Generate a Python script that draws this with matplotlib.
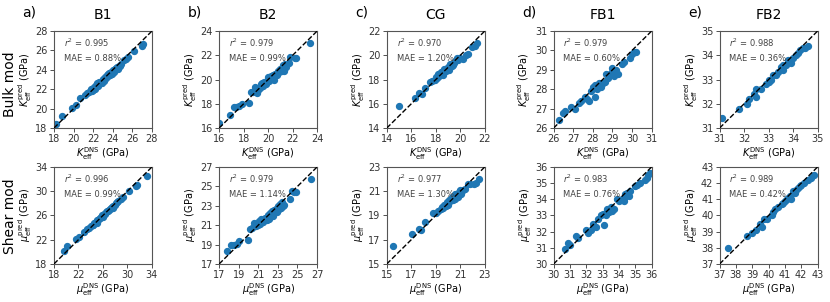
import numpy as np
import matplotlib
matplotlib.use("Agg")
import matplotlib.pyplot as plt

plt.rcParams['font.family'] = ['DejaVu Sans']
plt.rcParams['mathtext.fontset'] = 'dejavusans'

# ---- datos (DNS, pred) ----
b1_bulk_dns = [18.2, 18.8, 19.8, 20.3, 20.7, 21.2, 21.4, 21.6, 21.8, 22.0, 22.1, 22.3, 22.4, 22.5, 22.6,
               22.8, 22.9, 23.0, 23.1, 23.2, 23.3, 23.4, 23.5, 23.6, 23.7, 23.8, 23.9, 24.0, 24.1, 24.2,
               24.3, 24.4, 24.5, 24.6, 24.7, 25.2, 25.4, 25.6, 26.2, 27.0, 27.1, 24.8, 22.2, 21.9, 23.5]
b1_bulk_pred = [18.4, 19.2, 20.1, 20.4, 21.1, 21.4, 21.6, 21.7, 22.0, 21.9, 22.2, 22.4, 22.6, 22.3, 22.7,
                22.8, 22.6, 23.1, 22.9, 23.3, 23.2, 23.5, 23.4, 23.7, 23.5, 23.8, 23.6, 24.0, 23.8, 24.1,
                24.2, 24.3, 24.1, 24.4, 24.4, 25.0, 25.1, 25.3, 25.9, 26.5, 26.7, 24.6, 22.0, 21.8, 23.6]

b1_shear_dns = [19.6, 20.2, 21.6, 22.1, 22.9, 23.4, 23.8, 24.0, 24.3, 24.6, 24.9, 25.1, 25.3, 25.5, 25.7,
                25.9, 26.1, 26.3, 26.5, 26.7, 26.9, 27.1, 27.3, 27.5, 27.7, 27.9, 28.1, 28.3, 28.5, 28.9,
                29.2, 30.3, 31.4, 31.5, 33.2, 25.0, 26.0, 27.0, 27.6, 24.4]
b1_shear_pred = [20.1, 20.9, 22.1, 22.4, 23.3, 23.8, 24.0, 24.2, 24.5, 24.7, 25.0, 25.2, 25.4, 25.6, 25.8,
                 26.0, 26.2, 26.3, 26.5, 26.7, 26.8, 27.0, 27.2, 27.4, 27.5, 27.8, 28.0, 28.2, 28.4, 28.7,
                 29.0, 30.0, 30.8, 31.0, 32.5, 24.8, 25.8, 26.9, 27.3, 24.4]

b2_bulk_dns = [16.0, 16.9, 17.2, 17.4, 17.6, 17.9, 18.4, 18.6, 18.8, 18.9, 19.0, 19.1, 19.3, 19.4, 19.5,
               19.6, 19.7, 19.8, 19.9, 20.0, 20.1, 20.2, 20.3, 20.4, 20.5, 20.6, 20.7, 20.8, 20.9, 21.0,
               21.1, 21.2, 21.3, 21.4, 21.5, 21.7, 21.8, 22.2, 22.3, 23.4, 20.0, 19.2]
b2_bulk_pred = [16.4, 17.1, 17.7, 17.7, 17.8, 18.0, 18.1, 19.0, 19.0, 19.4, 19.2, 18.9, 19.3, 19.6, 19.7,
                19.5, 19.8, 19.6, 19.9, 20.2, 19.9, 20.3, 20.1, 20.4, 20.0, 20.5, 20.4, 20.7, 20.6, 20.9,
                20.7, 21.2, 20.7, 21.3, 21.0, 21.4, 21.9, 21.8, 21.8, 23.0, 20.0, 19.1]

b2_shear_dns = [17.8, 18.2, 18.5, 18.8, 19.0, 19.9, 20.2, 20.4, 20.6, 20.8, 21.0, 21.1, 21.3, 21.5, 21.7,
                21.9, 22.0, 22.1, 22.3, 22.4, 22.5, 22.6, 22.8, 22.9, 23.0, 23.1, 23.2, 23.3, 23.4, 23.5,
                23.6, 24.2, 24.4, 24.6, 24.9, 26.4, 22.2, 21.2]
b2_shear_pred = [18.3, 19.0, 19.0, 19.1, 19.4, 19.5, 20.6, 20.7, 21.2, 20.9, 21.0, 21.4, 21.6, 21.3, 21.7,
                 21.5, 22.0, 21.6, 22.2, 22.5, 21.9, 22.6, 22.7, 22.4, 23.0, 22.7, 23.2, 22.8, 23.4, 23.0,
                 23.1, 23.7, 24.5, 24.4, 24.4, 25.8, 22.3, 21.1]

cg_bulk_dns = [15.0, 16.3, 16.6, 16.9, 17.1, 17.5, 17.7, 17.9, 18.0, 18.1, 18.2, 18.3, 18.5, 18.6, 18.7,
               18.8, 18.9, 19.0, 19.1, 19.2, 19.3, 19.4, 19.5, 19.6, 19.7, 19.8, 20.0, 20.2, 20.5, 20.6,
               21.0, 21.2, 21.4, 19.9, 18.4]
cg_bulk_pred = [15.8, 16.5, 16.9, 16.8, 17.3, 17.8, 17.9, 18.0, 18.2, 18.1, 18.5, 18.3, 18.6, 18.4, 18.9,
                18.7, 18.8, 19.0, 18.8, 19.3, 19.1, 19.2, 19.4, 19.5, 19.8, 19.6, 19.8, 19.7, 20.0, 20.1,
                20.7, 20.8, 21.0, 19.8, 18.6]

cg_shear_dns = [15.5, 17.1, 17.6, 17.8, 18.1, 18.8, 19.0, 19.2, 19.4, 19.6, 19.7, 19.8, 19.9, 20.0, 20.1,
                20.2, 20.3, 20.4, 20.5, 20.6, 20.7, 20.8, 20.9, 21.0, 21.1, 21.2, 21.4, 21.6, 21.8, 22.1,
                22.3, 22.5, 20.6, 19.5]
cg_shear_pred = [16.5, 17.5, 17.9, 17.8, 18.5, 19.2, 19.2, 19.4, 19.5, 19.6, 19.9, 19.8, 20.1, 19.9, 20.3,
                 20.2, 20.5, 20.3, 20.6, 20.4, 20.7, 20.5, 20.9, 21.1, 20.8, 21.1, 21.2, 21.6, 21.6, 21.6,
                 21.7, 22.0, 20.8, 19.7]

fb1_bulk_dns = [26.3, 26.5, 26.6, 26.9, 27.1, 27.3, 27.4, 27.6, 27.7, 27.8, 27.9, 28.0, 28.1, 28.1, 28.2,
                28.3, 28.4, 28.5, 28.6, 28.7, 28.8, 28.9, 29.0, 29.1, 29.2, 29.3, 29.5, 29.6, 29.9, 30.0,
                30.1, 30.2, 28.8, 29.0]
fb1_bulk_pred = [26.4, 26.8, 26.9, 27.1, 27.0, 27.3, 27.4, 27.6, 27.5, 27.4, 27.9, 28.1, 27.6, 28.2, 28.0,
                 28.3, 28.1, 28.3, 28.4, 28.8, 28.7, 28.8, 28.9, 28.7, 29.0, 28.8, 29.3, 29.4, 29.6, 29.8,
                 29.9, 29.9, 28.6, 29.1]

fb1_shear_dns = [30.7, 30.9, 31.0, 31.4, 31.5, 32.0, 32.1, 32.3, 32.4, 32.6, 32.7, 32.9, 33.0, 33.1, 33.2,
                 33.3, 33.4, 33.5, 33.6, 33.7, 33.9, 34.0, 34.2, 34.3, 34.4, 34.5, 34.6, 34.7, 35.0, 35.1,
                 35.3, 35.6, 35.7, 35.8, 35.9, 34.3]
fb1_shear_pred = [30.9, 31.3, 31.2, 31.7, 31.6, 32.1, 31.9, 32.1, 32.5, 32.3, 32.8, 33.0, 33.1, 32.4, 33.0,
                  33.4, 33.2, 33.5, 33.3, 33.4, 34.0, 33.9, 34.0, 34.1, 34.3, 34.4, 34.2, 34.5, 34.8, 34.9,
                  35.0, 35.2, 35.3, 35.5, 35.6, 33.9]

fb2_bulk_dns = [31.1, 31.8, 32.1, 32.2, 32.4, 32.5, 32.5, 32.7, 32.9, 33.0, 33.1, 33.2, 33.3, 33.4, 33.5,
                33.6, 33.7, 33.8, 33.9, 34.0, 34.1, 34.2, 34.3, 34.4, 34.5, 34.6, 33.0, 33.6]
fb2_bulk_pred = [31.4, 31.8, 32.0, 32.2, 32.4, 32.6, 32.3, 32.6, 32.8, 33.0, 33.0, 33.2, 33.2, 33.3, 33.5,
                 33.4, 33.6, 33.8, 33.7, 33.9, 34.0, 34.1, 34.2, 34.3, 34.3, 34.4, 32.9, 33.6]

fb2_shear_dns = [37.5, 38.7, 39.0, 39.2, 39.5, 39.6, 39.7, 39.9, 40.2, 40.4, 40.6, 40.8, 40.9, 41.0, 41.1,
                 41.2, 41.3, 41.4, 41.6, 41.7, 41.8, 41.9, 42.0, 42.2, 42.4, 42.6, 42.8, 41.5, 40.3]
fb2_shear_pred = [38.0, 38.7, 38.9, 39.1, 39.5, 39.3, 39.8, 39.8, 40.0, 40.4, 40.5, 40.7, 40.8, 40.9, 41.0,
                  41.1, 41.2, 41.0, 41.4, 41.6, 41.7, 41.8, 41.9, 42.0, 42.2, 42.3, 42.5, 41.5, 40.2]

titulos = ['B1', 'B2', 'CG', 'FB1', 'FB2']
letras = ['a)', 'b)', 'c)', 'd)', 'e)']
filas = ['Bulk mod', 'Shear mod']

r2_bulk = ['0.995', '0.979', '0.970', '0.979', '0.988']
mae_bulk = ['0.88', '0.99', '1.20', '0.60', '0.36']
r2_shear = ['0.996', '0.979', '0.977', '0.983', '0.989']
mae_shear = ['0.99', '1.14', '1.30', '0.76', '0.42']

ticks_bulk = [np.arange(18, 29, 2), np.arange(16, 25, 2), np.arange(14, 23, 2),
              np.arange(26, 32, 1), np.arange(31, 36, 1)]
ticks_shear = [np.arange(18, 35, 4), np.arange(17, 28, 2), np.arange(15, 24, 2),
               np.arange(30, 37, 1), np.arange(37, 44, 1)]

datos_bulk = [(b1_bulk_dns, b1_bulk_pred), (b2_bulk_dns, b2_bulk_pred), (cg_bulk_dns, cg_bulk_pred),
              (fb1_bulk_dns, fb1_bulk_pred), (fb2_bulk_dns, fb2_bulk_pred)]
datos_shear = [(b1_shear_dns, b1_shear_pred), (b2_shear_dns, b2_shear_pred), (cg_shear_dns, cg_shear_pred),
               (fb1_shear_dns, fb1_shear_pred), (fb2_shear_dns, fb2_shear_pred)]

fig = plt.figure(figsize=(8.3, 3.02), dpi=100)

lefts = [0.065, 0.264, 0.466, 0.667, 0.867]
bottoms = [0.576, 0.126]
w, h = 0.118, 0.321


def panel(ax, x, y, ticks, r2, mae, sym):
    lo, hi = ticks[0], ticks[-1]
    ax.plot([lo, hi], [lo, hi], 'k--', lw=1, zorder=3)
    ax.scatter(x, y, s=18, color='#1f77b4', zorder=2)
    ax.set_xlim(lo, hi)
    ax.set_ylim(lo, hi)
    ax.set_xticks(ticks)
    ax.set_yticks(ticks)
    ax.tick_params(labelsize=7, length=3, width=0.6, colors='#333333', pad=1.5)
    for sp in ax.spines.values():
        sp.set_linewidth(0.8)
        sp.set_color('#555555')
    ax.text(0.1, 0.88, r'$r^2$ = ' + r2, transform=ax.transAxes, fontsize=6, color='#444444', va='center')
    ax.text(0.1, 0.72, 'MAE = ' + mae + '%', transform=ax.transAxes, fontsize=6, color='#444444', va='center')
    ax.set_xlabel(r'$%s_{\rm eff}^{\rm DNS}$ (GPa)' % sym, fontsize=7, labelpad=1)
    ax.set_ylabel(r'$%s_{\rm eff}^{\rm pred}$ (GPa)' % sym, fontsize=7, labelpad=1)


for i in range(5):
    ax = fig.add_axes([lefts[i], bottoms[0], w, h])
    panel(ax, datos_bulk[i][0], datos_bulk[i][1], ticks_bulk[i], r2_bulk[i], mae_bulk[i], 'K')
    ax.set_title(titulos[i], fontsize=10, pad=9)
    fig.text(lefts[i] - 0.038, 0.96, letras[i], fontsize=10, va='center')

    ax2 = fig.add_axes([lefts[i], bottoms[1], w, h])
    panel(ax2, datos_shear[i][0], datos_shear[i][1], ticks_shear[i], r2_shear[i], mae_shear[i], r'\mu')

fig.text(0.012, 0.72, filas[0], rotation=90, fontsize=10, va='center', ha='center')
fig.text(0.012, 0.285, filas[1], rotation=90, fontsize=10, va='center', ha='center')

fig.savefig('out.png', dpi=100)
